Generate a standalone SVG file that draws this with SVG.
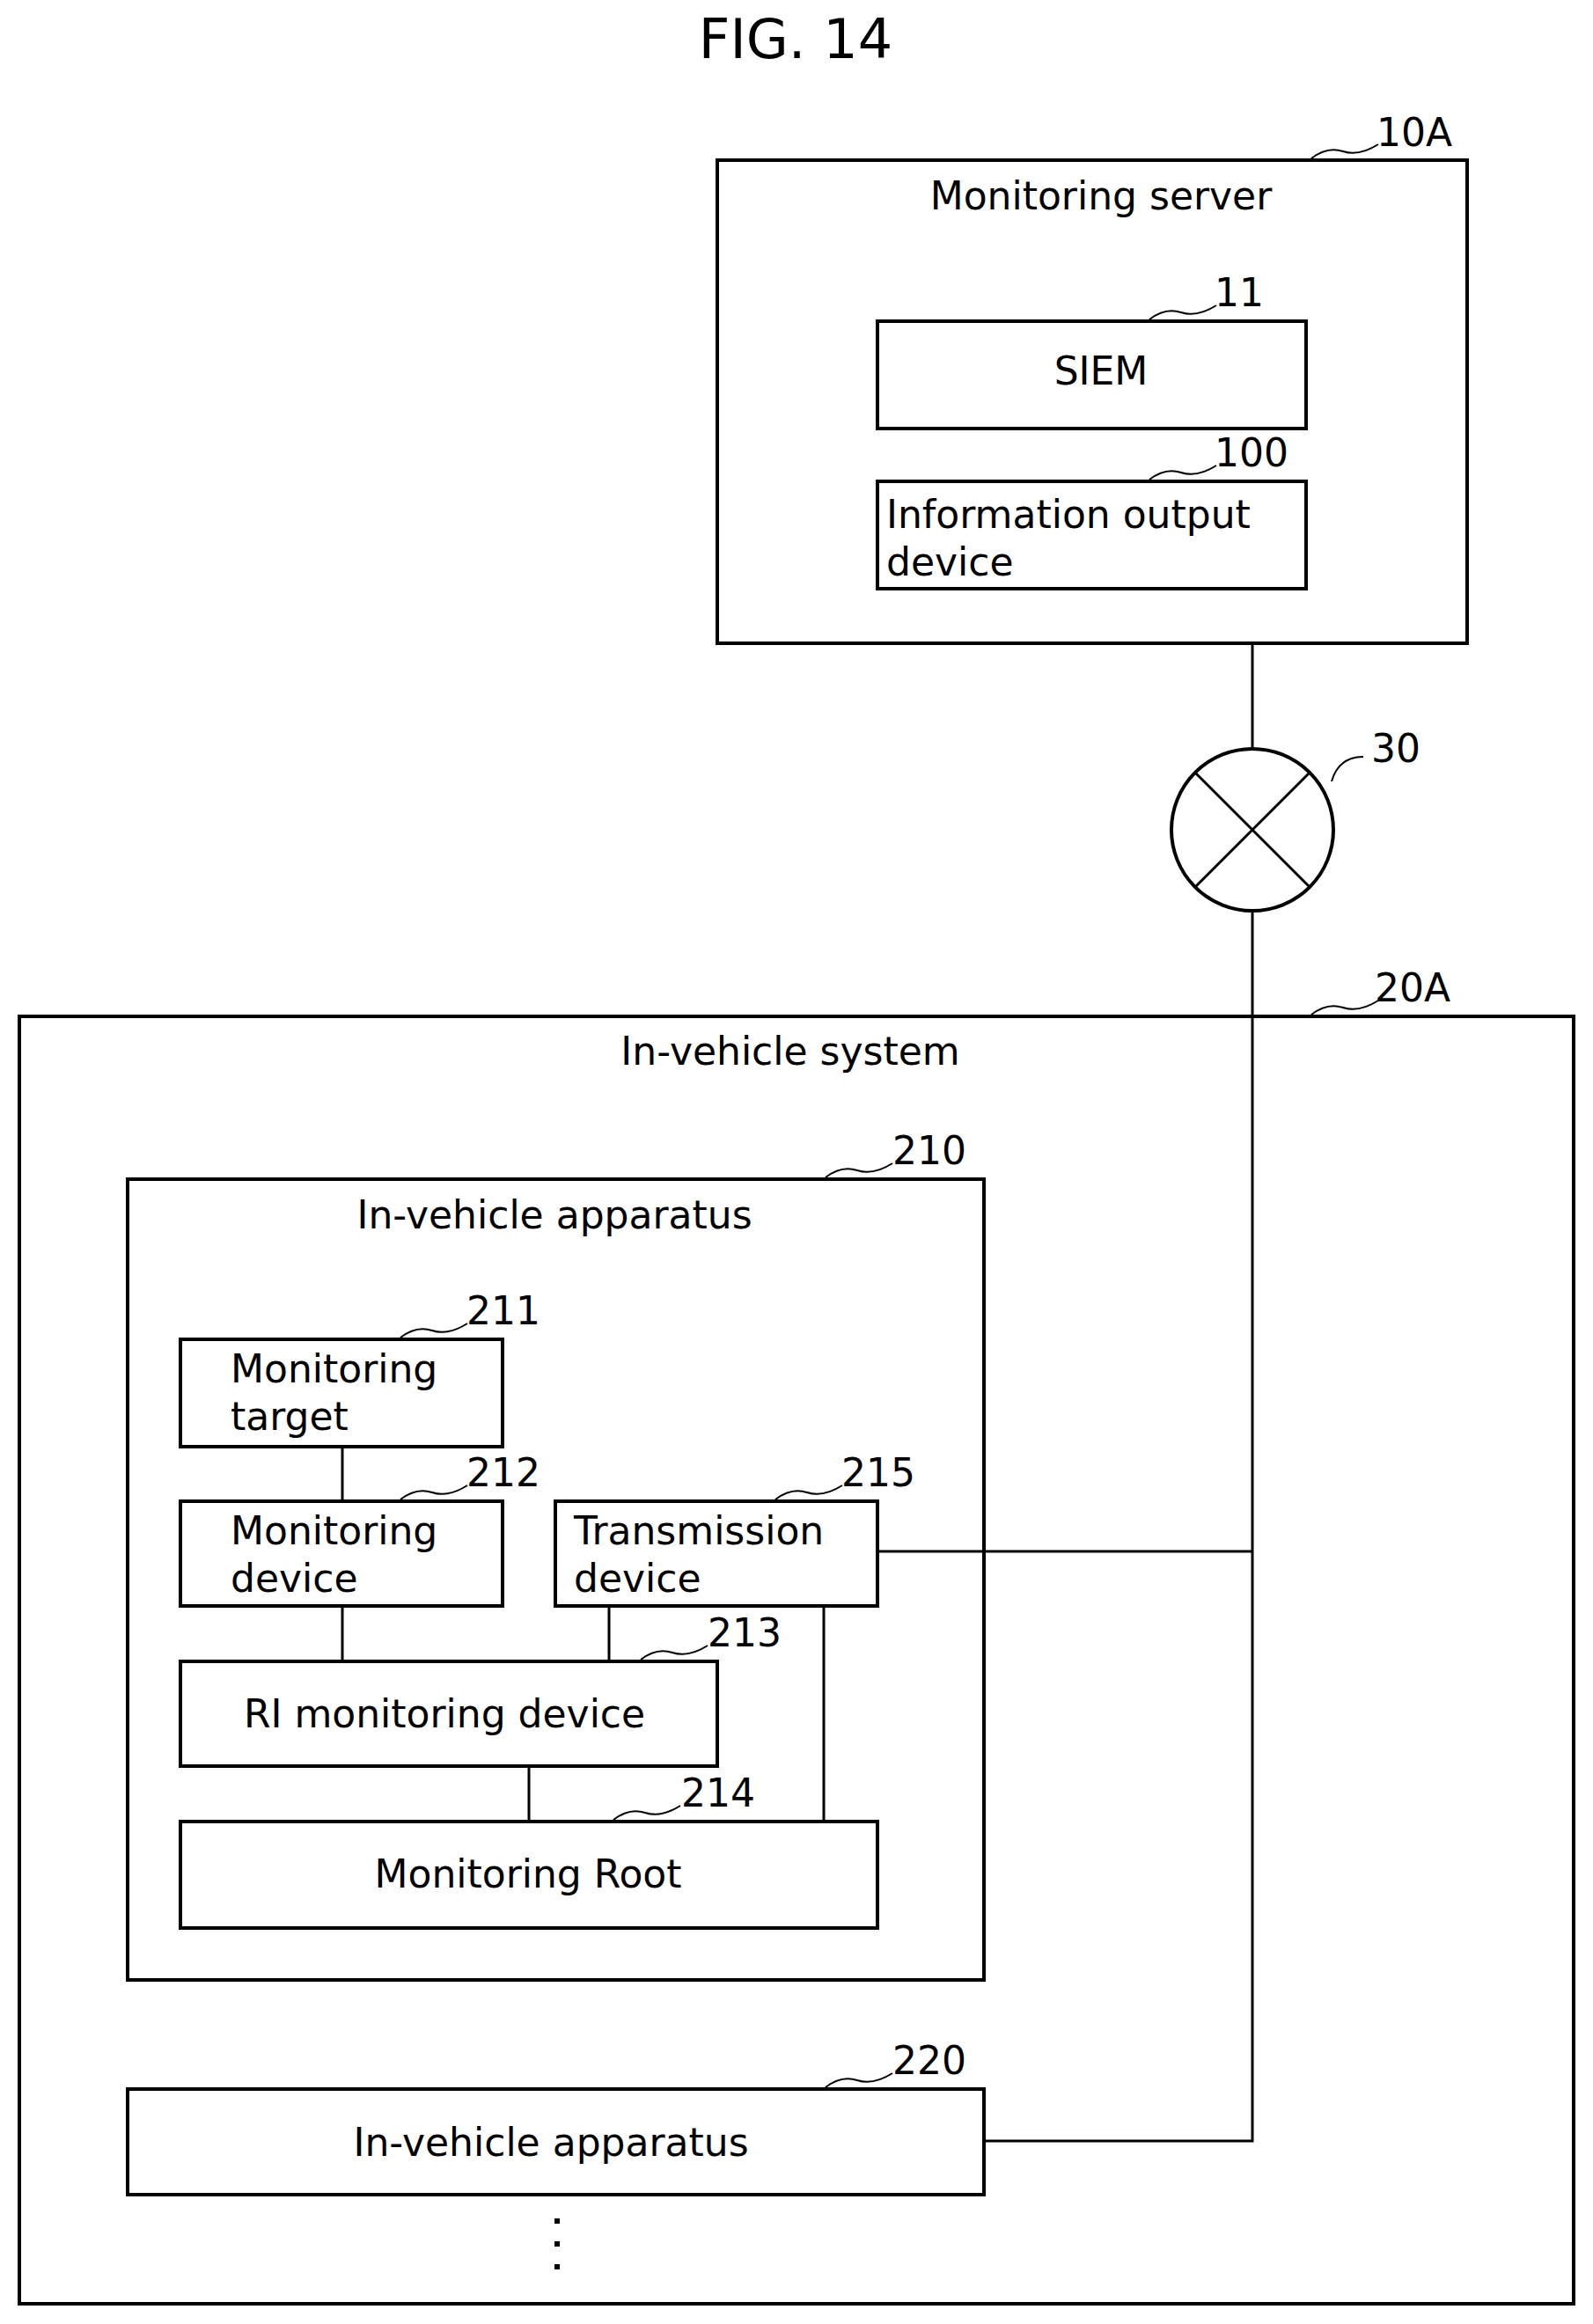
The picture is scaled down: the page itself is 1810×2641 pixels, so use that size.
<svg xmlns="http://www.w3.org/2000/svg" width="1810" height="2641" viewBox="0 0 1810 2641">
<style>
rect.b{fill:none;stroke:#000;stroke-width:4}
text{font-family:"DejaVu Sans",Verdana,sans-serif;font-size:44px;fill:#000}
.c{text-anchor:middle}
.l{fill:none;stroke:#000;stroke-width:3}
.k{fill:none;stroke:#000;stroke-width:2}
</style>
<rect width="1810" height="2641" fill="#fff"/>
<text class="c" x="904" y="66" style="font-size:62px">FIG. 14</text>
<g id="n10A"><rect class="b" x="815" y="182" width="852" height="549"/><text class="c" x="1251" y="238">Monitoring server</text><path class="k" d="M1490 180 q18 -14 36 -8 t40 -8"/><text x="1564" y="166">10A</text></g>
<g id="n11"><rect class="b" x="997" y="365" width="487" height="122"/><text class="c" x="1251" y="437">SIEM</text><path class="k" d="M1306 363 q18 -14 36 -8 t40 -8"/><text x="1380" y="348">11</text></g>
<g id="n100"><rect class="b" x="997" y="547" width="487" height="122"/><text x="1007" y="600">Information output</text><text x="1007" y="654">device</text><path class="k" d="M1306 545 q18 -14 36 -8 t40 -8"/><text x="1380" y="530">100</text></g>
<g id="n30"><circle cx="1423" cy="943" r="92" fill="none" stroke="#000" stroke-width="4"/><path class="l" d="M1358 878 L1488 1008 M1488 878 L1358 1008"/><path class="k" d="M1513 888 q8 -28 36 -28"/><text x="1558" y="866">30</text></g>
<g id="n20A"><rect class="b" x="22" y="1155" width="1766" height="1463"/><text class="c" x="898" y="1210">In-vehicle system</text><path class="k" d="M1490 1153 q18 -14 36 -8 t40 -8"/><text x="1562" y="1138">20A</text></g>
<g id="n210"><rect class="b" x="145" y="1340" width="973" height="910"/><text class="c" x="630" y="1396">In-vehicle apparatus</text><path class="k" d="M938 1338 q18 -14 36 -8 t40 -8"/><text x="1014" y="1323">210</text></g>
<g id="n211"><rect class="b" x="205" y="1522" width="366" height="122"/><text x="262" y="1571">Monitoring</text><text x="262" y="1625">target</text><path class="k" d="M455 1520 q18 -14 36 -8 t40 -8"/><text x="530" y="1505">211</text></g>
<g id="n212"><rect class="b" x="205" y="1706" width="366" height="119"/><text x="262" y="1755">Monitoring</text><text x="262" y="1809">device</text><path class="k" d="M455 1704 q18 -14 36 -8 t40 -8"/><text x="530" y="1689">212</text></g>
<g id="n215"><rect class="b" x="631" y="1706" width="366" height="119"/><text x="652" y="1755">Transmission</text><text x="652" y="1809">device</text><path class="k" d="M881 1704 q18 -14 36 -8 t40 -8"/><text x="956" y="1689">215</text></g>
<g id="n213"><rect class="b" x="205" y="1888" width="610" height="119"/><text class="c" x="505" y="1963">RI monitoring device</text><path class="k" d="M728 1886 q18 -14 36 -8 t40 -8"/><text x="804" y="1871">213</text></g>
<g id="n214"><rect class="b" x="205" y="2070" width="792" height="121"/><text class="c" x="600" y="2145">Monitoring Root</text><path class="k" d="M697 2068 q18 -14 36 -8 t40 -8"/><text x="774" y="2053">214</text></g>
<g id="n220"><rect class="b" x="145" y="2374" width="973" height="120"/><text class="c" x="626" y="2450">In-vehicle apparatus</text><path class="k" d="M938 2372 q18 -14 36 -8 t40 -8"/><text x="1014" y="2357">220</text></g>
<g id="dots" fill="#000"><rect x="630" y="2521" width="6" height="6"/><rect x="630" y="2547" width="6" height="6"/><rect x="630" y="2573" width="6" height="6"/></g>
<g id="connectors" class="l">
<path class="l" d="M1423 731 V851 M1423 1035 V2433 H1118 M997 1763 H1423 M389 1644 V1706 M389 1825 V1888 M692 1825 V1888 M601 2007 V2070 M936 1825 V2070"/>
</g>
</svg>
